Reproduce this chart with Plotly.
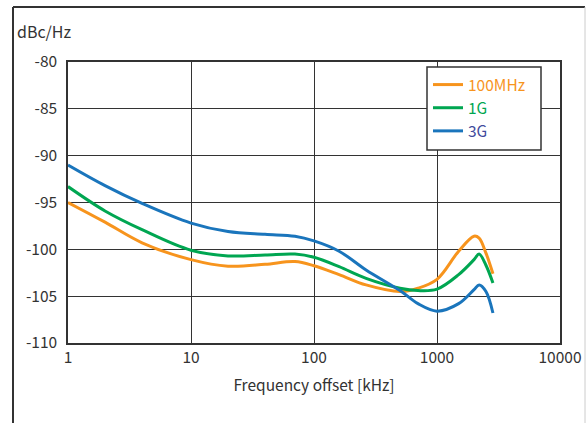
import plotly.graph_objects as go

# ---- data ----
freq_khz = [1, 2, 4, 10, 20, 40, 70, 100, 160, 265, 500, 700, 1000, 1500, 2000, 2200, 2500, 2850]
pn_100mhz = [-95.0, -97.1, -99.3, -101.1, -101.8, -101.6, -101.3, -101.75, -102.7, -103.8, -104.5, -104.15, -103.2, -100.2, -98.6, -98.8, -100.4, -102.6]
pn_1g = [-93.3, -95.9, -97.9, -100.1, -100.7, -100.6, -100.5, -100.85, -101.85, -103.1, -104.15, -104.4, -104.25, -102.7, -101.1, -100.5, -101.7, -103.6]
pn_3g = [-91.0, -93.2, -95.1, -97.2, -98.1, -98.4, -98.6, -99.1, -100.2, -102.2, -104.4, -105.8, -106.6, -105.8, -104.3, -103.8, -104.5, -106.8]

series_names = ["100MHz", "1G", "3G"]
line_colors = ["#f7941d", "#00a651", "#1a75bc"]
label_colors = ["#f7941d", "#00a651", "#3f4a9c"]

x_ticks = [1, 10, 100, 1000, 10000]
x_tick_labels = ["1", "10", "100", "1000", "10000"]
y_ticks = [-80, -85, -90, -95, -100, -105, -110]
y_tick_labels = ["-80", "-85", "-90", "-95", "-100", "-105", "-110"]

FONT = "Noto Sans CJK JP"
FS = 15.5

fig = go.Figure()
for name, ys, lc, tc in zip(series_names, [pn_100mhz, pn_1g, pn_3g], line_colors, label_colors):
    fig.add_trace(go.Scatter(
        x=freq_khz, y=ys, mode="lines",
        name=f'<span style="color:{tc}">{name}</span>',
        line=dict(color=lc, width=3, shape="spline", smoothing=1.0),
    ))

W, H = 586, 423
L, R, T, B = 68, 26, 62, 80
pw, ph = W - L - R, H - T - B

def px(xp):
    return (xp - L) / pw

def py(yp):
    return (H - B - yp) / ph

fig.update_layout(
    width=W, height=H,
    margin=dict(l=L, r=R, t=T, b=B, pad=0, autoexpand=False),
    paper_bgcolor="white", plot_bgcolor="white",
    font=dict(family=FONT, size=FS, color="#333333"),
    showlegend=True,
    legend=dict(
        x=px(428), y=py(68), xanchor="left", yanchor="top",
        bgcolor="rgba(0,0,0,0)", borderwidth=0,
        font=dict(family=FONT, size=FS),
        itemwidth=30, tracegroupgap=0,
    ),
    xaxis=dict(
        type="log", range=[0, 4], automargin=False,
        tickvals=x_ticks, ticktext=x_tick_labels,
        showgrid=True, gridcolor="#333333", gridwidth=1,
        showline=True, linecolor="#333333", linewidth=1.5, mirror=True,
        ticks="", zeroline=False,
        tickfont=dict(size=FS, color="#333333"),
        title=dict(text="Frequency offset [kHz]", font=dict(size=FS, color="#333333"), standoff=14),
    ),
    yaxis=dict(
        range=[-110, -80], automargin=False,
        tickvals=y_ticks, ticktext=y_tick_labels,
        showgrid=True, gridcolor="#333333", gridwidth=1,
        showline=True, linecolor="#333333", linewidth=1.5, mirror=True,
        ticks="", zeroline=False, ticklabelstandoff=6,
        tickfont=dict(size=FS, color="#333333"),
    ),
    annotations=[dict(
        text="dBc/Hz", xref="paper", yref="paper",
        x=px(15), y=py(31), xanchor="left", yanchor="middle",
        showarrow=False, font=dict(size=FS + 0.5, color="#333333"),
    )],
    shapes=[
        dict(type="rect", xref="paper", yref="paper", x0=px(427), x1=px(541), y0=py(150), y1=py(67),
             fillcolor="white", line=dict(color="#333333", width=1.5), layer="above"),
        dict(type="line", xref="paper", yref="paper", x0=px(13), x1=px(13), y0=py(440), y1=py(7),
             line=dict(color="#333333", width=2)),
        dict(type="line", xref="paper", yref="paper", x0=px(13), x1=px(585), y0=py(7), y1=py(7),
             line=dict(color="#333333", width=2)),
        dict(type="line", xref="paper", yref="paper", x0=px(585), x1=px(585), y0=py(440), y1=py(7),
             line=dict(color="#cccccc", width=1)),
    ],
)

fig.write_html("out.html", config={"displayModeBar": False},
               post_script="document.body.style.margin='0';document.body.style.overflow='hidden';")
